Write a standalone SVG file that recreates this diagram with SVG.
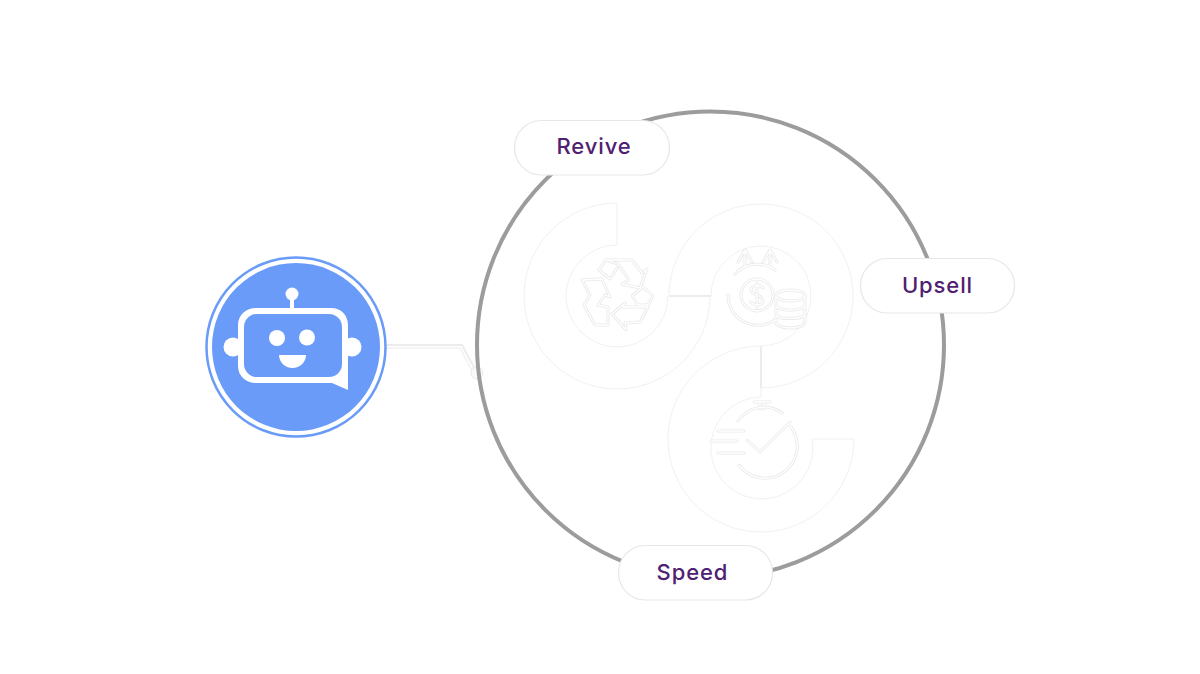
<svg xmlns="http://www.w3.org/2000/svg" xmlns:xlink="http://www.w3.org/1999/xlink" width="1200" height="674" viewBox="0 0 1200 674">
<style>
.pill{fill:#fff;stroke:#e8e6ea;stroke-width:1.2}
.lbl{font-family:"Inter","Noto Sans","Liberation Sans",sans-serif;font-size:22px;font-weight:500;letter-spacing:.9px;fill:#4f2170;text-anchor:middle;dominant-baseline:central}
.seg{fill:#fff;stroke:#f1f1f1;stroke-width:1}
.link{fill:none;stroke:#ececec;stroke-width:2}
.base{fill:none;stroke:#e9e9e9;stroke-width:3;stroke-linejoin:round;stroke-linecap:round}
.top{fill:none;stroke:#fff;stroke-width:1.300;stroke-linejoin:round;stroke-linecap:round}
.w{fill:#fff}
.b{fill:#6a9bf9}
</style>
<defs>
<g id="recycle-shape">
<path d="M606 260L632 260L642 273L647 269L640 288L622 284L629 280L618 264ZM606 260L599 270L610 279L617 268"/>
<path d="M582 280L602 279L610 297L605 295L598 305L608 307L608 325L595 325L584 305L590 295Z"/>
<path d="M612 314L625 303L623 307L648 307L640 322L625 323L626 330Z"/>
<path d="M632 296L643 287L653 296L648 305L638 305Z"/>
</g>
<g id="money-shape">
<path d="M745 267V252M738 262L745 250L752 262M770 267V252M763 262L770 250L777 262"/>
<path d="M775 270A30 30 0 0 0 735 274M728 295A30 30 0 0 0 775 320"/>
<circle cx="757" cy="295" r="16"/>
<path d="M763 288C760 284 751 285 751 290C751 296 763 294 763 301C763 306 754 306 751 302M757 283V308"/>
<ellipse cx="790.500" cy="295.500" rx="14.500" ry="5.500"/>
<path d="M776 296V322C776 330 805 330 805 322V296M776 305C776 312 805 312 805 305M776 314C776 320 805 320 805 314"/>
</g>
<g id="speed-shape">
<path d="M754 402H770M760 402V409M764 402V409"/>
<path d="M738 421A31 31 0 0 1 782 413M791 427A31 31 0 0 1 739 465"/>
<path d="M718 431H744M711 441H737M718 453H744"/>
<path d="M747 440L760 452L790 422"/>
</g>
</defs>
<rect width="1200" height="674" fill="#fff"/>
<g id="connectors">
<path class="link" d="M380 345H462L477 373"/>
<path d="M380 348H460L474 375" fill="none" stroke="#f1f1f1" stroke-width="1.500"/>
<circle cx="477" cy="373" r="6" fill="#fafafa" stroke="#eaeaea"/>
<path class="link" d="M670 296H711"/>
<path class="link" d="M761 346V388"/>
</g>
<circle id="ring" cx="710.500" cy="345" r="233.500" fill="none" stroke="#9c9c9c" stroke-width="4"/>
<g id="segment-revive">
<path class="seg" d="M617 203A93 93 0 1 0 710 296H668A51 51 0 1 1 617 245Z"/>
<use xlink:href="#recycle-shape" class="base"/>
<use xlink:href="#recycle-shape" class="top"/>
</g>
<g id="segment-upsell">
<path class="seg" d="M669 296A92 92 0 1 1 761 388V346A50 50 0 1 0 711 296Z"/>
<use xlink:href="#money-shape" class="base"/>
<use xlink:href="#money-shape" class="top"/>
</g>
<g id="segment-speed">
<path class="seg" d="M761 346A93 93 0 1 0 854 439H812A51 51 0 1 1 761 397Z"/>
<use xlink:href="#speed-shape" class="base"/>
<use xlink:href="#speed-shape" class="top"/>
</g>
<path class="link" d="M670 296H711M761 346V388"/>
<g id="bot">
<circle cx="296" cy="347" r="89.500" fill="#fff" stroke="#6a9bf9" stroke-width="2.500"/>
<circle class="b" cx="296" cy="347" r="84"/>
<circle class="w" cx="233" cy="347" r="9.500"/>
<circle class="w" cx="352" cy="347" r="9.500"/>
<rect class="w" x="290" y="296" width="4" height="14"/>
<circle class="w" cx="292" cy="294" r="6.500"/>
<path class="w" d="M256 308H331C341 308 348 315 348 325V390L332 383H256C246 383 238 376 238 366V325C238 315 246 308 256 308Z"/>
<rect class="b" x="244" y="314" width="98" height="63" rx="13"/>
<circle class="w" cx="277" cy="338" r="8"/>
<circle class="w" cx="307" cy="337.500" r="8"/>
<path class="w" d="M279 355H306C306 362 300 368 292.500 368C285 368 279 362 279 355Z"/>
</g>
<g id="pill-revive"><rect class="pill" x="514.500" y="120.500" width="155" height="54.500" rx="27"/><text class="lbl" x="594" y="146">Revive</text></g>
<g id="pill-upsell"><rect class="pill" x="860.500" y="258.500" width="154" height="54.500" rx="27"/><text class="lbl" x="937.500" y="285">Upsell</text></g>
<g id="pill-speed"><rect class="pill" x="618.500" y="545.500" width="154" height="54.500" rx="27"/><text class="lbl" x="692.500" y="572">Speed</text></g>
</svg>
